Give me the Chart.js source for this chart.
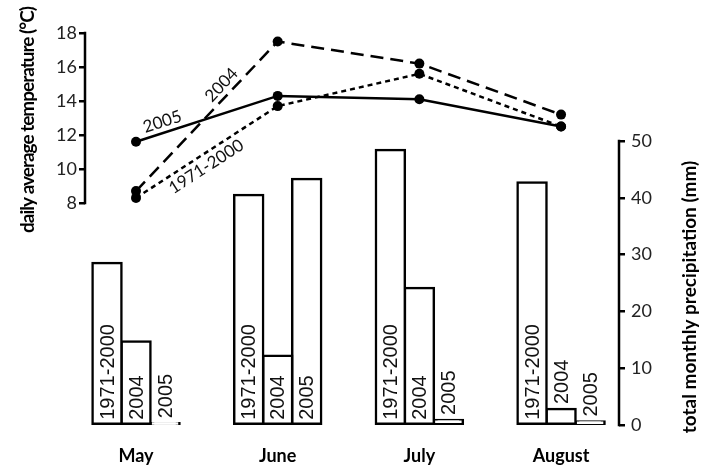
<!DOCTYPE html>
<html>
<head>
<meta charset="utf-8">
<script src="https://cdn.jsdelivr.net/npm/chart.js@4.4.1/dist/chart.umd.min.js"></script>
<style>
  body { margin: 0; background: #fff; }
  #wrap { width: 714px; height: 466px; position: relative; }
</style>
</head>
<body>
<div id="wrap"><canvas id="climate_chart"></canvas></div>
<script>
const months = ['May', 'June', 'July', 'August'];
const periods = ['1971-2000', '2004', '2005'];

// daily average temperature (°C)
const tempNormal = [8.3, 13.7, 15.6, 12.5];
const temp2004 = [8.7, 17.5, 16.2, 13.2];
const temp2005 = [11.6, 14.3, 14.1, 12.5];

// total monthly precipitation (mm)
const precNormal = [28.5, 40.5, 48.4, 42.7];
const prec2004 = [14.7, 12.2, 24.1, 2.8];
const prec2005 = [0.3, 43.3, 0.9, 0.6];

const tempTicks = [8, 10, 12, 14, 16, 18];
const precTicks = [0, 10, 20, 30, 40, 50];

const pts = arr => arr.map((v, i) => ({ x: i, y: v }));

function lineSet(label, values, dash) {
    return {
        type: 'line',
        label: label,
        data: pts(values),
        yAxisID: 'yT',
        borderColor: '#000',
        backgroundColor: '#000',
        borderWidth: 2.5,
        borderDash: dash,
        pointRadius: 5,
        pointBorderWidth: 0,
        tension: 0
    };
}

function barSet(label, values) {
    return {
        type: 'bar',
        label: label,
        data: pts(values),
        yAxisID: 'yP',
        backgroundColor: '#fff',
        borderColor: '#000',
        borderWidth: 2.5,
        borderSkipped: false,
        inflateAmount: 1.25, // centre the outline on the bar edge
        categoryPercentage: 0.614,
        barPercentage: 1
    };
}

// where the period names sit along the May-June segment
const lineLabels = [
    { ds: 0, text: '2005', t: 0.21, off: -11 },
    { ds: 1, text: '2004', t: 0.66, off: -11 },
    { ds: 2, text: '1971-2000', t: 0.45, off: 12 }
];

const extras = {
    id: 'extras',
    afterDatasetsDraw(chart) {
        const ctx = chart.ctx;
        // vertical labels inside the bars (on top of them when the bar is tiny)
        ctx.save();
        ctx.font = '20px "Liberation Sans", Arial, sans-serif';
        ctx.fillStyle = '#111';
        ctx.textAlign = 'left';
        ctx.textBaseline = 'middle';
        [3, 4, 5].forEach(d => {
            chart.getDatasetMeta(d).data.forEach(el => {
                const start = (el.base - el.y) < 20 ? el.y - 5 : el.base - 4;
                ctx.save();
                ctx.translate(el.x, start);
                ctx.rotate(-Math.PI / 2);
                ctx.fillText(chart.data.datasets[d].label, 0, 1);
                ctx.restore();
            });
        });
        ctx.restore();

        // period names along the lines
        ctx.save();
        ctx.font = '17px Lato, sans-serif';
        ctx.fillStyle = '#111';
        ctx.textAlign = 'center';
        ctx.textBaseline = 'middle';
        lineLabels.forEach(l => {
            const p = chart.getDatasetMeta(l.ds).data;
            const a = p[0], b = p[1];
            const ang = Math.atan2(b.y - a.y, b.x - a.x);
            const x = a.x + (b.x - a.x) * l.t - Math.sin(ang) * l.off;
            const y = a.y + (b.y - a.y) * l.t + Math.cos(ang) * l.off;
            ctx.save();
            ctx.translate(x, y);
            ctx.rotate(ang);
            ctx.fillText(l.text, 0, 0);
            ctx.restore();
        });
        ctx.restore();
    },
    afterDraw(chart) {
        const ctx = chart.ctx;
        const yT = chart.scales.yT, yP = chart.scales.yP;
        const area = chart.chartArea;
        ctx.save();
        ctx.strokeStyle = '#000';
        ctx.lineWidth = 2.5;
        ctx.beginPath();
        ctx.moveTo(area.left, yT.getPixelForValue(tempTicks[0]) + 1.25);
        ctx.lineTo(area.left, yT.getPixelForValue(tempTicks[tempTicks.length - 1]) - 1.25);
        ctx.moveTo(area.right, yP.getPixelForValue(precTicks[0]) + 1.25);
        ctx.lineTo(area.right, yP.getPixelForValue(precTicks[precTicks.length - 1]) - 1.25);
        ctx.stroke();

        // axis titles, both reading bottom to top
        ctx.font = 'bold 19px Lato, sans-serif';
        ctx.letterSpacing = '-1px';
        ctx.fillStyle = '#000';
        ctx.textAlign = 'center';
        ctx.textBaseline = 'middle';
        ctx.translate(28, 120);
        ctx.rotate(-Math.PI / 2);
        ctx.fillText('daily average temperature (°C)', 0, 0);
        ctx.restore();
        ctx.save();
        ctx.font = 'bold 19px Lato, sans-serif';
        ctx.fillStyle = '#000';
        ctx.textAlign = 'center';
        ctx.textBaseline = 'middle';
        ctx.translate(690, 297);
        ctx.rotate(-Math.PI / 2);
        ctx.fillText('total monthly precipitation (mm)', 0, 0);
        ctx.restore();
    }
};

const ctx1 = document.getElementById('climate_chart');

new Chart(ctx1, {
    type: 'bar',
    data: {
        datasets: [
            lineSet('2005', temp2005, []),
            lineSet('2004', temp2004, [13, 7]),
            lineSet('1971-2000', tempNormal, [5, 4]),
            barSet(periods[0], precNormal),
            barSet(periods[1], prec2004),
            barSet(periods[2], prec2005)
        ]
    },
    options: {
        responsive: true,
        maintainAspectRatio: false,
        animation: false,
        layout: { padding: { top: 20, left: 0, right: 0, bottom: 0 } },
        plugins: {
            legend: { display: false },
            tooltip: { enabled: false }
        },
        scales: {
            x: {
                type: 'linear',
                offset: false,
                min: -0.36,
                max: 3.409,
                afterBuildTicks: s => { s.ticks = months.map((m, i) => ({ value: i })); },
                afterFit: s => { s.height = 41; },
                grid: { display: false, drawTicks: false },
                border: { display: false },
                ticks: {
                    padding: 20,
                    color: '#000',
                    font: { family: 'Lato', size: 18, weight: 'bold' },
                    maxRotation: 0,
                    callback: v => months[v]
                }
            },
            yT: {
                type: 'linear',
                position: 'left',
                min: -5.059,
                max: 18.765,
                afterBuildTicks: s => { s.ticks = tempTicks.map(v => ({ value: v })); },
                afterFit: s => { s.width = 85; },
                grid: { drawOnChartArea: false, drawTicks: true, tickLength: 6, color: '#000', lineWidth: 2.5 },
                border: { display: false },
                ticks: { padding: 2, color: '#222', font: { family: 'Lato', size: 18 } }
            },
            yP: {
                type: 'linear',
                position: 'right',
                min: 0,
                max: 71.3,
                afterBuildTicks: s => { s.ticks = precTicks.map(v => ({ value: v })); },
                afterFit: s => { s.width = 95; },
                grid: { drawOnChartArea: false, drawTicks: true, tickLength: 6, color: '#000', lineWidth: 2.5 },
                border: { display: false },
                ticks: { padding: 6, color: '#222', font: { family: 'Lato', size: 18 } }
            }
        }
    },
    plugins: [extras]
});
</script>
</body>
</html>
